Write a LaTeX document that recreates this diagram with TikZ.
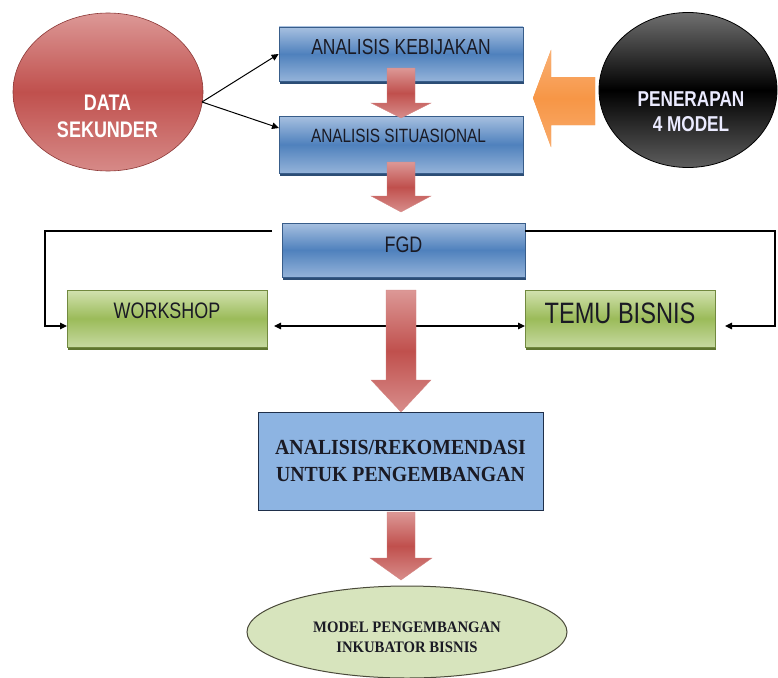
\documentclass[tikz,border=0pt]{standalone}
\usepackage{fontspec}
\newfontfamily\narrowf[FakeStretch=0.8]{Liberation Sans}
\newfontfamily\serf[FakeStretch=0.92]{Liberation Serif}
\usetikzlibrary{arrows.meta,shadows,calc,shapes.geometric}
\definecolor{blT}{HTML}{A7C0E0}
\definecolor{blM}{HTML}{4F81BD}
\definecolor{blB}{HTML}{94B3D9}
\definecolor{blD}{HTML}{385D8A}
\definecolor{blS}{HTML}{2C4D75}
\definecolor{grT}{HTML}{D2E2B0}
\definecolor{grM}{HTML}{9BBB59}
\definecolor{grB}{HTML}{C6D9A0}
\definecolor{grD}{HTML}{71893F}
\definecolor{grS}{HTML}{5E7530}
\definecolor{rdL}{HTML}{DC9896}
\definecolor{rdM}{HTML}{C0504D}
\definecolor{rdD}{HTML}{8C3836}
\definecolor{orA}{HTML}{F79646}
\definecolor{bkT}{HTML}{707070}
\definecolor{bkB}{HTML}{5E5E5E}
\definecolor{arF}{HTML}{8DB4E2}
\definecolor{arD}{HTML}{1F2F4A}
\definecolor{mpF}{HTML}{D7E4BD}
\definecolor{mpD}{HTML}{4A4A3A}
\definecolor{txt}{HTML}{1A1A24}
\newcommand\blockdown[5]{%
  \path[redarrow] (401-#4,#1) -- (401+#4,#1) -- (401+#4,#2) -- (401+#5,#2) -- (401,#3)
    -- (401-#5,#2) -- (401-#4,#2) -- cycle;}
\begin{document}
\begin{tikzpicture}[x=1pt,y=-1pt,
  boxbase/.style={rectangle, inner sep=0pt, line width=0.8pt},
  bluebox/.style={boxbase, draw=blD, top color=blT, bottom color=blB, middle color=blM,
    general shadow={fill=blS, shadow xshift=1pt, shadow yshift=-2.5pt}},
  greenbox/.style={boxbase, draw=grD, top color=grT, bottom color=grB, middle color=grM,
    general shadow={fill=grS, shadow xshift=1pt, shadow yshift=-2.5pt}},
  lbl/.style={inner sep=0pt, text=txt, anchor=base},
  wlbl/.style={inner sep=0pt, text=white, align=center, font=\narrowf\bfseries\fontsize{22.5}{27}\selectfont},
  redarrow/.style={top color=rdL, bottom color=rdL!85!rdM, middle color=rdM, draw=rdM!70!white, line width=0.3pt},
  conn/.style={draw=black, line width=1.1pt},
  tip/.style={-{Triangle[length=7pt,width=6.5pt]}},
  dtip/.style={{Triangle[length=7pt,width=6.5pt]}-{Triangle[length=7pt,width=6.5pt]}}
]
\useasboundingbox (0,0) rectangle (778,677);
\fill[white] (0,0) rectangle (778,677);

% ellipses at the top
\node[ellipse, minimum width=190pt, minimum height=158pt, draw=rdD, line width=0.6pt,
  top color=rdL, bottom color=rdL!80!rdM, middle color=rdM] (ds) at (108,92) {};
\node[wlbl] (dst) at (107.5,116) {DATA\\SEKUNDER};

\node[ellipse, minimum width=178pt, minimum height=155pt, draw=black, line width=0.8pt,
  top color=bkT, bottom color=bkB, middle color=black] (pn) at (688,90) {};
\node[wlbl, font=\narrowf\bfseries\fontsize{21.5}{25}\selectfont, text=white!92!blue] (pnt) at (691,111.5) {PENERAPAN\\4 MODEL};

% blue boxes
\node[bluebox, minimum width=244pt, minimum height=54pt] (ak) at (401,54) {};
\node[lbl, font=\narrowf\fontsize{21.8}{23}\selectfont] (akt) at (401,55) {ANALISIS KEBIJAKAN};
\node[bluebox, minimum width=244pt, minimum height=57pt] (as) at (401,144.5) {};
\node[lbl, font=\narrowf\fontsize{19.2}{21}\selectfont] (ast) at (398.5,142) {ANALISIS SITUASIONAL};
\node[bluebox, minimum width=243pt, minimum height=54pt] (fgd) at (403.5,250) {};
\node[lbl, font=\narrowf\fontsize{22.4}{24}\selectfont] (fgdt) at (403.5,252) {FGD};

% green boxes
\node[greenbox, minimum width=200pt, minimum height=57pt] (ws) at (167,318.5) {};
\node[lbl, font=\narrowf\fontsize{22.4}{24}\selectfont] (wst) at (167,318) {WORKSHOP};
\node[greenbox, minimum width=190pt, minimum height=57pt] (tb) at (620,318.5) {};
\node[lbl, font=\narrowf\fontsize{29.5}{31}\selectfont] (tbt) at (620,323) {TEMU BISNIS};

% connectors from data sekunder
\coordinate (dsA) at (202,102);
\coordinate (asW) at (279,128);
\draw[conn, line width=1pt, tip] (dsA) -- (ak.west);
\draw[conn, line width=1pt, tip] (dsA) -- (asW);

% FGD loops
\coordinate (fL) at (272,231);
\coordinate (fR) at (525,231);
\coordinate (wsI) at (67,326);
\coordinate (tbI) at (725,326);
\coordinate (wsR) at (274,326);
\coordinate (tbL) at (525,326);
\draw[conn, tip] (fL) -- (45,231) |- (wsI);
\draw[conn, tip] (fR) -- (775,231) |- (tbI);
\draw[conn, dtip] (wsR) -- (tbL);

% red block arrows
\blockdown{68}{103}{118}{14}{30}
\blockdown{162}{196}{212}{14}{30}
\blockdown{290}{380}{412}{15}{30}

% orange arrow
\path[fill=orA, top color=orA!75!white, bottom color=orA!80!white, middle color=orA]
  (595,77) -- (551,77) -- (551,50) -- (533,98) -- (551,147) -- (551,125) -- (595,125) -- cycle;

% recommendation box
\node[rectangle, inner sep=0pt, minimum width=285pt, minimum height=98pt, fill=arF, draw=arD, line width=1pt] (ar) at (400.5,461) {};
\node[inner sep=0pt, text=txt, align=center, font=\serf\bfseries\fontsize{21.5}{27}\selectfont] (art) at (400.5,461) {ANALISIS/REKOMENDASI\\UNTUK PENGEMBANGAN};

\blockdown{512}{558}{580}{14}{31}

% final ellipse
\node[ellipse, minimum width=320pt, minimum height=92pt, fill=mpF, draw=mpD, line width=1pt] (mp) at (407,632) {};
\node[inner sep=0pt, text=txt, align=center, font=\serf\bfseries\fontsize{16}{20}\selectfont] (mpt) at (407,637.5) {MODEL PENGEMBANGAN\\INKUBATOR BISNIS};
\end{tikzpicture}
\end{document}
